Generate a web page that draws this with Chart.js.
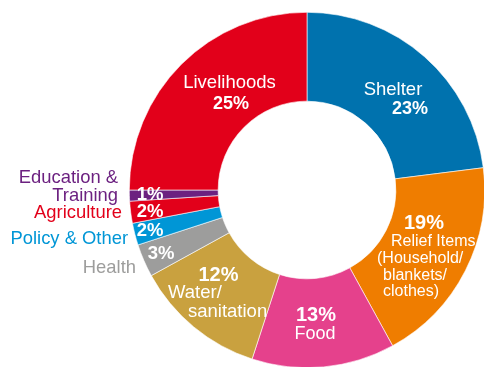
<!DOCTYPE html>
<html>
<head>
<meta charset="utf-8">
<script src="https://cdn.jsdelivr.net/npm/chart.js@4/dist/chart.umd.min.js"></script>
<style>
html,body{margin:0;padding:0;background:#fff;overflow:hidden;}
#wrap{width:484px;height:367px;position:relative;overflow:hidden;}
#c{position:absolute;left:0;top:0;}
</style>
</head>
<body>
<div id="wrap"><canvas id="c" width="492" height="374"></canvas></div>
<script>
// ---- data ----
const categories = ["Shelter","Relief Items (Household/ blankets/ clothes)","Food","Water/ sanitation","Health","Policy & Other","Agriculture","Education & Training","Livelihoods"];
const values = [23,19,13,12,3,2,2,1,25];
const percentLabels = ["23%","19%","13%","12%","3%","2%","2%","1%","25%"];
const colors = ["#0072AE","#EF7D00","#E5418C","#C9A13F","#9D9D9C","#0096D6","#E2001A","#6C2180","#E2001A"];

// ---- label layout (offsets from doughnut centre, px) ----
const FONT = "Liberation Sans, Arial, Helvetica, sans-serif";
const labelLayout = [
  // Shelter
  [{t:"Shelter",dx:86,dy:-95,a:"center",b:false,s:18.5,c:"#fff"},
   {t:"%",dx:103,dy:-76,a:"center",b:true,s:18,c:"#fff"}],
  // Relief
  [{t:"%",dx:117,dy:39,a:"center",b:true,s:20,c:"#fff"},
   {t:"Relief Items",dx:84,dy:56,a:"left",b:false,s:16,c:"#fff"},
   {t:"(Household/",dx:70,dy:72.5,a:"left",b:false,s:16,c:"#fff"},
   {t:"blankets/",dx:76,dy:90,a:"left",b:false,s:16,c:"#fff"},
   {t:"clothes)",dx:76,dy:105.5,a:"left",b:false,s:16,c:"#fff"}],
  // Food
  [{t:"%",dx:9,dy:131,a:"center",b:true,s:20,c:"#fff"},
   {t:"Food",dx:8,dy:149,a:"center",b:false,s:18,c:"#fff"}],
  // Water
  [{t:"%",dx:-88.5,dy:91,a:"center",b:true,s:20,c:"#fff"},
   {t:"Water/",dx:-139,dy:108,a:"left",b:false,s:18.5,c:"#fff"},
   {t:"sanitation",dx:-119,dy:127,a:"left",b:false,s:18.5,c:"#fff"}],
  // Health
  [{t:"%",dx:-146,dy:69,a:"center",b:true,s:18.5,c:"#fff"},
   {t:"Health",dx:-171,dy:83,a:"right",b:false,s:18.4,c:"#9D9D9C"}],
  // Policy
  [{t:"%",dx:-157,dy:46,a:"center",b:true,s:18.5,c:"#fff"},
   {t:"Policy & Other",dx:-179,dy:54,a:"right",b:false,s:18.4,c:"#0096D6"}],
  // Agriculture
  [{t:"%",dx:-157,dy:27,a:"center",b:true,s:18.5,c:"#fff"},
   {t:"Agriculture",dx:-185,dy:28,a:"right",b:false,s:18.4,c:"#E2001A"}],
  // Education
  [{t:"%",dx:-157,dy:10,a:"center",b:true,s:18.5,c:"#fff"},
   {t:"Education &",dx:-189,dy:-7,a:"right",b:false,s:18.4,c:"#6C2180"},
   {t:"Training",dx:-189,dy:11,a:"right",b:false,s:18.4,c:"#6C2180"}],
  // Livelihoods
  [{t:"Livelihoods",dx:-77.5,dy:-102,a:"center",b:false,s:18.5,c:"#fff"},
   {t:"%",dx:-76,dy:-81,a:"center",b:true,s:18,c:"#fff"}]
];

const labelPlugin = {
  id: "sliceLabels",
  afterDatasetsDraw(chart) {
    const meta = chart.getDatasetMeta(0);
    const ctx = chart.ctx;
    ctx.save();
    ctx.textBaseline = "alphabetic";
    meta.data.forEach((arc, i) => {
      const cx = arc.x, cy = arc.y;
      labelLayout[i].forEach(l => {
        ctx.font = (l.b ? "bold " : "") + l.s + "px " + FONT;
        ctx.fillStyle = l.c;
        ctx.textAlign = l.a;
        const txt = l.t === "%" ? percentLabels[i] : l.t;
        ctx.fillText(txt, cx + l.dx, cy + l.dy);
      });
    });
    ctx.restore();
  }
};

new Chart(document.getElementById("c"), {
  type: "doughnut",
  data: {
    labels: categories,
    datasets: [{
      data: values,
      backgroundColor: colors,
      borderColor: "#ffffff",
      borderWidth: 0.6,
      hoverOffset: 0
    }]
  },
  options: {
    responsive: false,
    animation: false,
    cutout: "50%",
    rotation: 0,
    layout: { padding: { left: 129, right: 7, top: 12, bottom: 6 } },
    plugins: { legend: { display: false }, tooltip: { enabled: false } }
  },
  plugins: [labelPlugin]
});
</script>
</body>
</html>
